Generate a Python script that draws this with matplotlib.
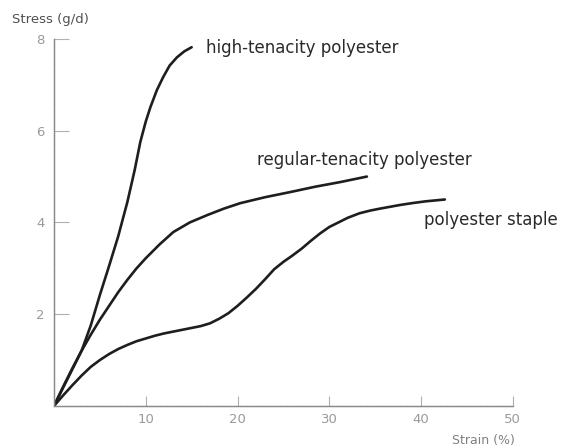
import matplotlib
matplotlib.use("Agg")
from matplotlib import pyplot as plt

# stress-strain curves
high_strain = [0, 1, 2, 3, 4, 5, 6, 7, 8, 8.8, 9.4, 10, 10.5, 11.2, 11.9,
               12.6, 13.4, 14.2, 15.0]
high_stress = [0, 0.4, 0.8, 1.2, 1.75, 2.42, 3.05, 3.7, 4.45, 5.15, 5.75, 6.2,
               6.51, 6.88, 7.17, 7.42, 7.6, 7.73, 7.82]

regular_strain = [0, 1, 2, 3, 4, 5, 6, 7, 8, 9, 10, 11.5, 13, 14.8, 16.7,
                  18.5, 20.3, 23, 25.7, 28.5, 31.2, 34.1]
regular_stress = [0, 0.42, 0.82, 1.2, 1.55, 1.88, 2.18, 2.48, 2.75, 3.0, 3.22,
                  3.52, 3.79, 4.0, 4.16, 4.3, 4.42, 4.55, 4.66, 4.78, 4.88, 5.0]

staple_strain = [0, 1, 2, 3, 4, 5, 6, 7, 8, 9, 10, 11, 12, 13, 14, 15, 16, 17,
                 18, 19, 20, 21, 22, 23, 24, 25, 26, 27, 28, 29, 30, 31, 32,
                 33.3, 34.5, 35.5, 36.6, 37.7, 39, 40.5, 42.6]
staple_stress = [0, 0.23, 0.45, 0.66, 0.85, 1.0, 1.13, 1.24, 1.33, 1.41, 1.47,
                 1.53, 1.58, 1.62, 1.66, 1.7, 1.74, 1.8, 1.9, 2.02, 2.18, 2.36,
                 2.55, 2.76, 2.98, 3.14, 3.28, 3.43, 3.6, 3.76, 3.9, 4.0, 4.1,
                 4.2, 4.26, 4.3, 4.34, 4.38, 4.42, 4.46, 4.5]

curve_labels = ["high-tenacity polyester", "regular-tenacity polyester", "polyester staple"]
x_ticks = [10, 20, 30, 40, 50]
y_ticks = [2, 4, 6, 8]

fig = plt.figure(figsize=(5.84, 4.48), dpi=100)
ax = fig.add_axes([0.0925, 0.094, 0.7855, 0.819])

line_kw = dict(color="#1e1e1e", lw=1.9, solid_capstyle="round", solid_joinstyle="round")
ax.plot(high_strain, high_stress, **line_kw)
ax.plot(regular_strain, regular_stress, **line_kw)
ax.plot(staple_strain, staple_stress, **line_kw)

ax.set_xlim(0, 50)
ax.set_ylim(0, 8)
for side in ("top", "right"):
    ax.spines[side].set_visible(False)
for side in ("left", "bottom"):
    ax.spines[side].set_color("#8a8a8a")
    ax.spines[side].set_linewidth(1.0)
    ax.spines[side].set_linestyle((0, (1, 0.6)))

ax.set_xticks(x_ticks)
ax.set_yticks(y_ticks)
ax.tick_params(axis="y", direction="in", length=11, width=0.8, color="#b0b0b0",
               labelcolor="#9a9a9a", labelsize=9.5, pad=7)
ax.tick_params(axis="x", direction="in", length=7, width=0.8, color="#b0b0b0",
               labelcolor="#9a9a9a", labelsize=9.5, pad=5)

txt_kw = dict(color="#2a2a2a", fontsize=12, family="DejaVu Sans", va="center")
ax.text(16.6, 7.8, curve_labels[0], **txt_kw)
ax.text(22.1, 5.36, curve_labels[1], **txt_kw)
ax.text(40.3, 4.05, curve_labels[2], **txt_kw)

fig.text(0.02, 0.957, "Stress (g/d)", color="#505050", fontsize=9.5, va="center")
fig.text(0.882, 0.017, "Strain (%)", color="#808080", fontsize=9, ha="right", va="center")

fig.savefig("out.png", dpi=100)
